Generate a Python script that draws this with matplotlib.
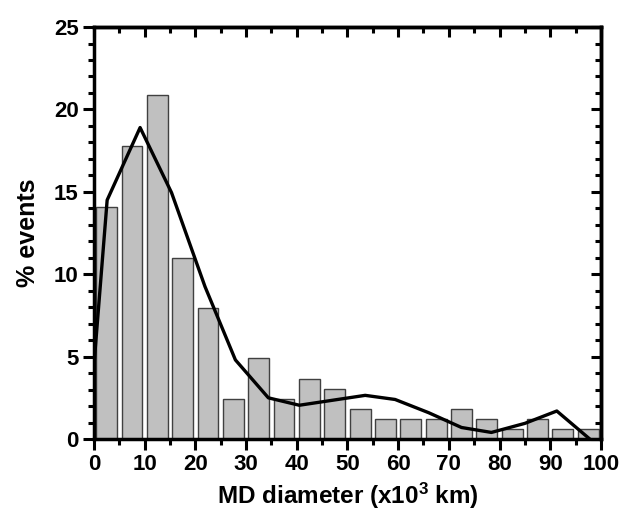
import matplotlib
matplotlib.use('Agg')
import matplotlib.pyplot as plt
from matplotlib.ticker import MultipleLocator
import numpy as np

plt.rcParams['font.family'] = 'Liberation Sans'
plt.rcParams['font.weight'] = 'bold'
plt.rcParams['mathtext.fontset'] = 'custom'
plt.rcParams['mathtext.bf'] = 'Liberation Sans:bold'
plt.rcParams['mathtext.rm'] = 'Liberation Sans:bold'
plt.rcParams['mathtext.default'] = 'bf'

# histogram of MD diameters (bin centres, % events)
bin_centers = [2.5, 7.5, 12.5, 17.5, 22.5, 27.5, 32.5, 37.5, 42.5, 47.5,
               52.5, 57.5, 62.5, 67.5, 72.5, 77.5, 82.5, 87.5, 92.5, 97.5]
pct_events = [14.1, 17.8, 20.85, 11.0, 7.95, 2.45, 4.9, 2.45, 3.65, 3.05,
              1.85, 1.2, 1.2, 1.2, 1.85, 1.2, 0.6, 1.2, 0.6, 0.6]

# smoothed curve
curve_x = [0, 2.6, 9.1, 15.3, 21.9, 27.9, 34.4, 40.5, 47.0, 53.5,
           59.4, 66.0, 72.5, 78.4, 85.0, 91.3, 97.8]
curve_y = [4.5, 14.5, 18.9, 14.95, 9.25, 4.8, 2.5, 2.05, 2.35, 2.65,
           2.4, 1.6, 0.7, 0.4, 0.95, 1.7, 0.0]

fig = plt.figure(figsize=(6.24, 5.13), dpi=100)
ax = fig.add_axes([0.1506, 0.1442, 0.8124, 0.8031])

ax.bar(bin_centers, pct_events, width=4.1, color='#c0c0c0',
       edgecolor='#404040', linewidth=1.0, zorder=2)
ax.plot(curve_x, curve_y, color='black', linewidth=2.4, zorder=3)

ax.set_xlim(0, 100)
ax.set_ylim(0, 25)
ax.xaxis.set_major_locator(MultipleLocator(10))
ax.xaxis.set_minor_locator(MultipleLocator(5))
ax.yaxis.set_major_locator(MultipleLocator(5))
ax.yaxis.set_minor_locator(MultipleLocator(1))

for s in ax.spines.values():
    s.set_linewidth(2.5)

ax.tick_params(which='major', direction='out', length=8, width=2.2,
               labelsize=16, pad=3)
ax.tick_params(which='minor', direction='out', length=4, width=2.2)

# top and right: inward ticks without labels
top = ax.secondary_xaxis('top')
top.xaxis.set_major_locator(MultipleLocator(10))
top.xaxis.set_minor_locator(MultipleLocator(5))
top.tick_params(which='major', direction='in', length=7, width=2.2,
                labeltop=False)
top.tick_params(which='minor', direction='in', length=4, width=2.2)
top.spines['top'].set_linewidth(2.5)

right = ax.secondary_yaxis('right')
right.yaxis.set_major_locator(MultipleLocator(5))
right.yaxis.set_minor_locator(MultipleLocator(1))
right.tick_params(which='major', direction='in', length=7, width=2.2,
                  labelright=False)
right.tick_params(which='minor', direction='in', length=4, width=2.2)
right.spines['right'].set_linewidth(2.5)

for lab in ax.get_xticklabels() + ax.get_yticklabels():
    lab.set_fontweight('bold')

ax.set_xlabel(r'MD diameter (x10$^{3}$ km)', fontsize=17.5,
              fontweight='bold', labelpad=4)
ax.set_ylabel('% events', fontsize=18, fontweight='bold', labelpad=10)

fig.savefig('out.png', dpi=100)
